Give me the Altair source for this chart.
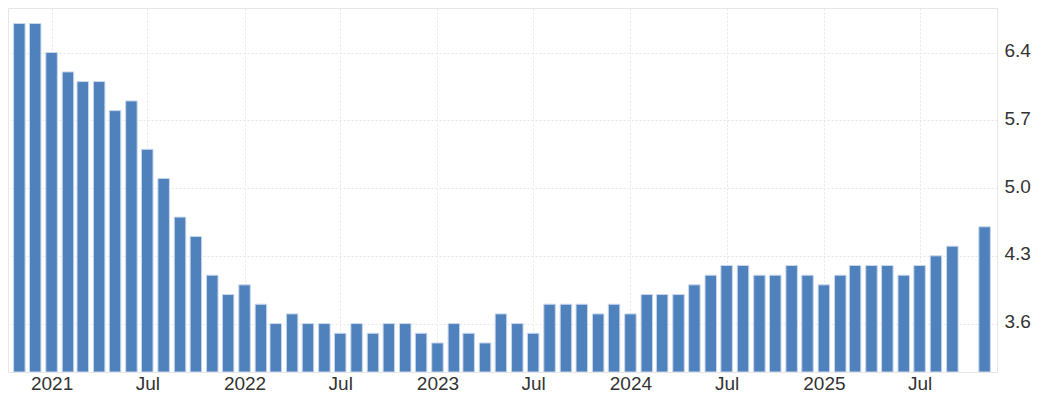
import altair as alt
import pandas as pd

months = [
    "2020-11", "2020-12",
    "2021-01", "2021-02", "2021-03", "2021-04", "2021-05", "2021-06",
    "2021-07", "2021-08", "2021-09", "2021-10", "2021-11", "2021-12",
    "2022-01", "2022-02", "2022-03", "2022-04", "2022-05", "2022-06",
    "2022-07", "2022-08", "2022-09", "2022-10", "2022-11", "2022-12",
    "2023-01", "2023-02", "2023-03", "2023-04", "2023-05", "2023-06",
    "2023-07", "2023-08", "2023-09", "2023-10", "2023-11", "2023-12",
    "2024-01", "2024-02", "2024-03", "2024-04", "2024-05", "2024-06",
    "2024-07", "2024-08", "2024-09", "2024-10", "2024-11", "2024-12",
    "2025-01", "2025-02", "2025-03", "2025-04", "2025-05", "2025-06",
    "2025-07", "2025-08", "2025-09", "2025-11",
]
rates = [
    6.7, 6.7,
    6.4, 6.2, 6.1, 6.1, 5.8, 5.9, 5.4, 5.1, 4.7, 4.5, 4.1, 3.9,
    4.0, 3.8, 3.6, 3.7, 3.6, 3.6, 3.5, 3.6, 3.5, 3.6, 3.6, 3.5,
    3.4, 3.6, 3.5, 3.4, 3.7, 3.6, 3.5, 3.8, 3.8, 3.8, 3.7, 3.8,
    3.7, 3.9, 3.9, 3.9, 4.0, 4.1, 4.2, 4.2, 4.1, 4.1, 4.2, 4.1,
    4.0, 4.1, 4.2, 4.2, 4.2, 4.1, 4.2, 4.3, 4.4, 4.6,
]
y_ticks = [3.6, 4.3, 5.0, 5.7, 6.4]
x_tick_years = [2021, 2022, 2023, 2024, 2025]

df = pd.DataFrame({"date": [m + "-01T00:00:00Z" for m in months], "rate": rates})

x_ticks = []
for yr in x_tick_years:
    x_ticks.append(alt.DateTime(year=yr, month=1, date=1, utc=True))
    x_ticks.append(alt.DateTime(year=yr, month=7, date=1, utc=True))

grid_color = "#e6e6e6"

chart = alt.Chart(df).mark_bar(
    size=11.5, color="#4f81bd", stroke="#c9d8ec", strokeWidth=1, clip=True
).encode(
    x=alt.X(
        "date:T",
        scale=alt.Scale(
            type="utc",
            domain=[
                alt.DateTime(year=2020, month=10, date=20, utc=True),
                alt.DateTime(year=2025, month=11, date=15, utc=True),
            ],
            nice=False,
        ),
        axis=alt.Axis(
            values=x_ticks,
            labelExpr="utcmonth(datum.value) == 0 ? utcFormat(datum.value, '%Y') : 'Jul'",
            title=None,
            ticks=False,
            labelPadding=2,
            labelFlush=False,
            labelOverlap=False,
            grid=True,
            gridColor=grid_color,
            gridDash=[2, 2],
            domainColor=grid_color,
        ),
    ),
    y=alt.Y(
        "rate:Q",
        scale=alt.Scale(domain=[3.1, 6.86], nice=False, zero=False),
        axis=alt.Axis(
            orient="right",
            values=y_ticks,
            format=".1f",
            title=None,
            ticks=False,
            labelPadding=7,
            labelOffset=-2,
            grid=True,
            gridColor=grid_color,
            gridDash=[2, 2],
            domainColor=grid_color,
        ),
    ),
    y2=alt.datum(3.1),
).properties(
    width=989, height=364, padding=0
).configure_view(
    stroke=grid_color
).configure_axis(
    labelFont="Liberation Sans", labelFontSize=19, labelColor="#333333"
)

chart.save("out.html", embed_options={"renderer": "svg", "actions": False})
